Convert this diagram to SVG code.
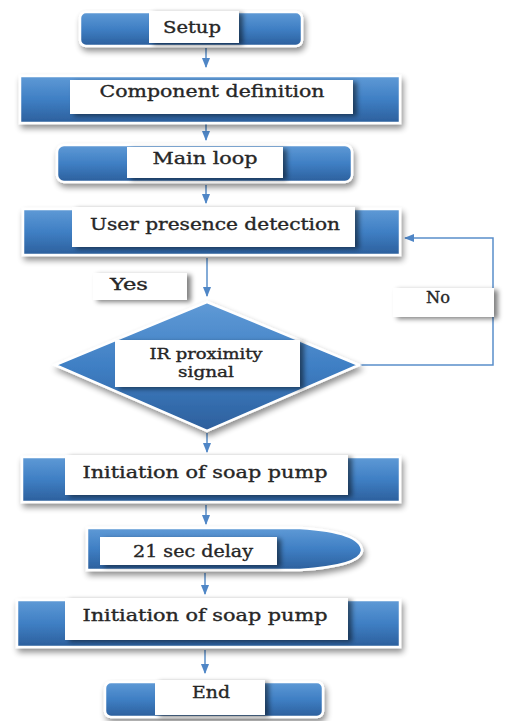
<svg xmlns="http://www.w3.org/2000/svg" width="505" height="721" viewBox="0 0 505 721">
  <defs>
    <linearGradient id="blue" x1="0" y1="0" x2="0" y2="1">
      <stop offset="0" stop-color="#5f9ad6"/>
      <stop offset="0.5" stop-color="#3f7fc4"/>
      <stop offset="1" stop-color="#2c5f9c"/>
    </linearGradient>
    <linearGradient id="blueDiamond" x1="0" y1="0" x2="0" y2="1">
      <stop offset="0" stop-color="#3c78ba"/>
      <stop offset="0.5" stop-color="#4c8bcc"/>
      <stop offset="1" stop-color="#2f67a6"/>
    </linearGradient>
    <filter id="shadow" x="-10%" y="-20%" width="125%" height="160%">
      <feGaussianBlur in="SourceAlpha" stdDeviation="3"/>
      <feOffset dx="2" dy="4" result="b"/>
      <feComponentTransfer><feFuncA type="linear" slope="0.45"/></feComponentTransfer>
      <feMerge><feMergeNode/><feMergeNode in="SourceGraphic"/></feMerge>
    </filter>
    <filter id="labelShadow" x="-20%" y="-30%" width="150%" height="180%">
      <feGaussianBlur in="SourceAlpha" stdDeviation="2.5"/>
      <feOffset dx="4" dy="2"/>
      <feComponentTransfer><feFuncA type="linear" slope="0.5"/></feComponentTransfer>
      <feMerge><feMergeNode/><feMergeNode in="SourceGraphic"/></feMerge>
    </filter>
    <marker id="arrow" viewBox="0 0 10 10" refX="9" refY="5" markerWidth="7" markerHeight="7" orient="auto-start-reverse">
      <path d="M0,1 L10,5 L0,9 Z" fill="#4f86c6"/>
    </marker>
  </defs>
  <style>
    .shape { fill: url(#blue); stroke: #ffffff; stroke-width: 2.5; filter: url(#shadow); }
    .label { fill: #ffffff; filter: url(#labelShadow); }
    .txt { font-family: "DejaVu Serif", "Liberation Serif", serif; font-size: 16px; fill: #262626; stroke: #262626; stroke-width: 0.35; text-anchor: middle; }
    .small { font-size: 14px; }
    .conn { fill: none; stroke: #5a8fca; stroke-width: 1.5; }
  </style>

  <rect width="505" height="721" fill="#ffffff"/>

  <g id="connectors">
    <line class="conn" x1="206" y1="48" x2="206" y2="67" marker-end="url(#arrow)"/>
    <line class="conn" x1="206" y1="124" x2="206" y2="140" marker-end="url(#arrow)"/>
    <line class="conn" x1="206" y1="185" x2="206" y2="203" marker-end="url(#arrow)"/>
    <line class="conn" x1="207" y1="258" x2="207" y2="296" marker-end="url(#arrow)"/>
    <line class="conn" x1="207" y1="433" x2="207" y2="452" marker-end="url(#arrow)"/>
    <line class="conn" x1="206" y1="505" x2="206" y2="524" marker-end="url(#arrow)"/>
    <line class="conn" x1="205" y1="573" x2="205" y2="594" marker-end="url(#arrow)"/>
    <line class="conn" x1="205" y1="650" x2="205" y2="673" marker-end="url(#arrow)"/>
    <path class="conn" d="M360,365 L493,365 L493,238 L405,238" marker-end="url(#arrow)"/>
  </g>

  <g id="node-setup">
    <rect class="shape" x="80" y="12" width="222" height="34" rx="6"/>
    <rect class="label" x="149" y="11" width="90" height="32"/>
    <text class="txt" x="192" y="33" textLength="58" lengthAdjust="spacingAndGlyphs">Setup</text>
  </g>

  <g id="node-component">
    <rect class="shape" x="20" y="76" width="380" height="47"/>
    <rect class="label" x="70" y="80" width="283" height="34"/>
    <text class="txt" x="212" y="97" textLength="225" lengthAdjust="spacingAndGlyphs">Component definition</text>
  </g>

  <g id="node-mainloop">
    <rect class="shape" x="57" y="145" width="295" height="37" rx="7"/>
    <rect class="label" x="127" y="147" width="156" height="31"/>
    <text class="txt" x="205" y="164" textLength="105" lengthAdjust="spacingAndGlyphs">Main loop</text>
  </g>

  <g id="node-presence">
    <rect class="shape" x="23" y="209" width="377" height="46"/>
    <rect class="label" x="72" y="207" width="283" height="40"/>
    <text class="txt" x="215" y="230" textLength="250" lengthAdjust="spacingAndGlyphs">User presence detection</text>
  </g>

  <g id="label-yes">
    <rect class="label" x="93" y="273" width="94" height="27"/>
    <text class="txt" x="129" y="290" textLength="38" lengthAdjust="spacingAndGlyphs">Yes</text>
  </g>

  <g id="label-no">
    <rect class="label" x="393" y="288" width="101" height="29"/>
    <text class="txt" x="438" y="303" textLength="24" lengthAdjust="spacingAndGlyphs">No</text>
  </g>

  <g id="node-ir">
    <polygon class="shape" points="207,302 359,365 207,431 55,365" fill="url(#blueDiamond)"/>
    <rect class="label" x="115" y="340" width="185" height="47"/>
    <text class="txt small" x="206" y="359" textLength="113" lengthAdjust="spacingAndGlyphs">IR proximity</text>
    <text class="txt small" x="206" y="377" textLength="56" lengthAdjust="spacingAndGlyphs">signal</text>
  </g>

  <g id="node-pump1">
    <rect class="shape" x="22" y="457" width="378" height="45"/>
    <rect class="label" x="65" y="455" width="283" height="40"/>
    <text class="txt" x="205" y="478" textLength="245" lengthAdjust="spacingAndGlyphs">Initiation of soap pump</text>
  </g>

  <g id="node-delay">
    <path class="shape" d="M87,528 L300,528 Q362,532 362,551 Q360,566 300,570 L87,570 Z"/>
    <rect class="label" x="100" y="537" width="177" height="28"/>
    <text class="txt" x="193" y="557" textLength="120" lengthAdjust="spacingAndGlyphs">21 sec delay</text>
  </g>

  <g id="node-pump2">
    <rect class="shape" x="17" y="600" width="383" height="47"/>
    <rect class="label" x="65" y="598" width="283" height="42"/>
    <text class="txt" x="205" y="621" textLength="245" lengthAdjust="spacingAndGlyphs">Initiation of soap pump</text>
  </g>

  <g id="node-end">
    <rect class="shape" x="105" y="682" width="218" height="35" rx="6"/>
    <rect class="label" x="155" y="680" width="110" height="35"/>
    <text class="txt" x="211" y="698" textLength="38" lengthAdjust="spacingAndGlyphs">End</text>
  </g>
</svg>
